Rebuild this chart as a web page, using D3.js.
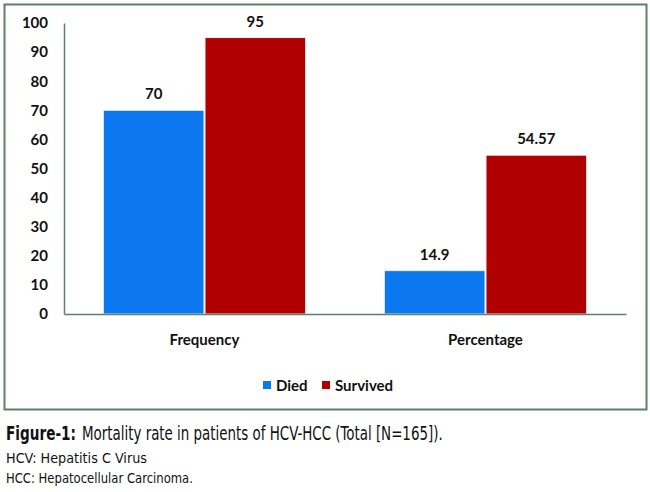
<!DOCTYPE html>
<html>
<head>
<meta charset="utf-8">
<script src="https://cdn.jsdelivr.net/npm/d3@7"></script>
<style>
  body { margin: 0; background: #fff; }
  svg text { font-family: Lato, "Open Sans", sans-serif; }
  svg text.caption { font-family: "Liberation Sans Narrow", "DejaVu Sans", sans-serif; font-stretch: condensed; }
</style>
</head>
<body>
<svg id="chart" width="650" height="492"></svg>
<script>
// data
const categories = ["Frequency", "Percentage"];
const seriesNames = ["Died", "Survived"];
const diedValues = [70, 14.9];
const survivedValues = [95, 54.57];
const valueLabels = [["70", "14.9"], ["95", "54.57"]];
const yTicks = [0, 10, 20, 30, 40, 50, 60, 70, 80, 90, 100];

const colors = { Died: "#0b78f0", Survived: "#b00000" };
const frameColor = "#5e7f6c";

const svg = d3.select("#chart");
const width = 650, height = 492;

// outer frame
svg.append("rect")
  .attr("x", 4.5).attr("y", 4.5)
  .attr("width", 642).attr("height", 405)
  .attr("fill", "#fff")
  .attr("stroke", frameColor)
  .attr("stroke-width", 2);

const margin = { top: 23, left: 64, right: 24, bottom: 178 };
const plotW = width - margin.left - margin.right;
const plotH = height - margin.top - margin.bottom;

const g = svg.append("g").attr("transform", `translate(${margin.left},${margin.top})`);

const x = d3.scaleBand()
  .domain(categories)
  .range([0, plotW])
  .paddingInner(0.28)
  .paddingOuter(0.14);

const xSub = d3.scaleBand()
  .domain(seriesNames)
  .range([0, x.bandwidth()])
  .paddingInner(0.01);

const y = d3.scaleLinear().domain([0, 100]).range([plotH, 0]);

// table built from the arrays
const rows = categories.map((c, i) => ({
  category: c,
  values: [
    { name: "Died", value: diedValues[i], label: valueLabels[0][i] },
    { name: "Survived", value: survivedValues[i], label: valueLabels[1][i] }
  ]
}));

// y axis
const yAxis = g.append("g").call(
  d3.axisLeft(y).tickValues(yTicks).tickSize(0).tickPadding(16)
);
yAxis.select(".domain").attr("stroke", frameColor).attr("stroke-width", 1.5);
yAxis.selectAll("text")
  .attr("font-size", 15)
  .attr("font-weight", 700)
  .attr("fill", "#111");

const groups = g.selectAll("g.cat")
  .data(rows)
  .join("g")
  .attr("class", "cat")
  .attr("transform", (d) => `translate(${x(d.category)},0)`);

groups.selectAll("rect")
  .data((d) => d.values)
  .join("rect")
  .attr("x", (d) => xSub(d.name))
  .attr("width", xSub.bandwidth())
  .attr("y", (d) => y(d.value))
  .attr("height", (d) => plotH - y(d.value))
  .attr("fill", (d) => colors[d.name])
  .attr("stroke", "#e8eef0")
  .attr("stroke-width", 1);

groups.selectAll("text.val")
  .data((d) => d.values)
  .join("text")
  .attr("class", "val")
  .attr("text-anchor", "middle")
  .attr("x", (d) => xSub(d.name) + xSub.bandwidth() / 2)
  .attr("y", (d) => y(d.value) - 11)
  .attr("font-size", 15)
  .attr("font-weight", 700)
  .attr("fill", "#111")
  .text((d) => d.label);

// x axis
const xAxis = g.append("g")
  .attr("transform", `translate(0,${plotH})`)
  .call(d3.axisBottom(x).tickSize(0).tickPadding(20));
xAxis.select(".domain").attr("stroke", frameColor).attr("stroke-width", 1.5);
xAxis.selectAll("text")
  .attr("font-size", 15)
  .attr("font-weight", 700)
  .attr("fill", "#111");

// legend
const legend = svg.append("g").attr("transform", "translate(263,385)");
const legendItems = [
  { name: seriesNames[0], x: 0 },
  { name: seriesNames[1], x: 59 }
];
legendItems.forEach((it) => {
  legend.append("rect")
    .attr("x", it.x).attr("y", -4)
    .attr("width", 8).attr("height", 8)
    .attr("fill", colors[it.name]);
  legend.append("text")
    .attr("x", it.x + 13).attr("y", 5.5)
    .attr("font-size", 15)
    .attr("font-weight", 700)
    .attr("fill", "#111")
    .text(it.name);
});

// caption: squeeze each line horizontally to the condensed face of the original
function captionText(str, x0, y0, size, len, bold) {
  const wrap = svg.append("g");
  const t = wrap.append("text")
    .attr("class", "caption")
    .attr("font-size", size)
    .attr("font-weight", bold ? 700 : 400)
    .attr("fill", "#111")
    .text(str);
  const natural = t.node().getComputedTextLength() || len;
  wrap.attr("transform", `translate(${x0},${y0}) scale(${len / natural},1)`);
}
captionText("Figure-1:", 6, 440, 20, 70, true);
captionText("Mortality rate in patients of HCV-HCC (Total [N=165]).", 82, 440, 20, 361, false);
captionText("HCV: Hepatitis C Virus", 6, 463, 14, 141, false);
captionText("HCC: Hepatocellular Carcinoma.", 6, 483, 14, 187, false);
</script>
</body>
</html>
